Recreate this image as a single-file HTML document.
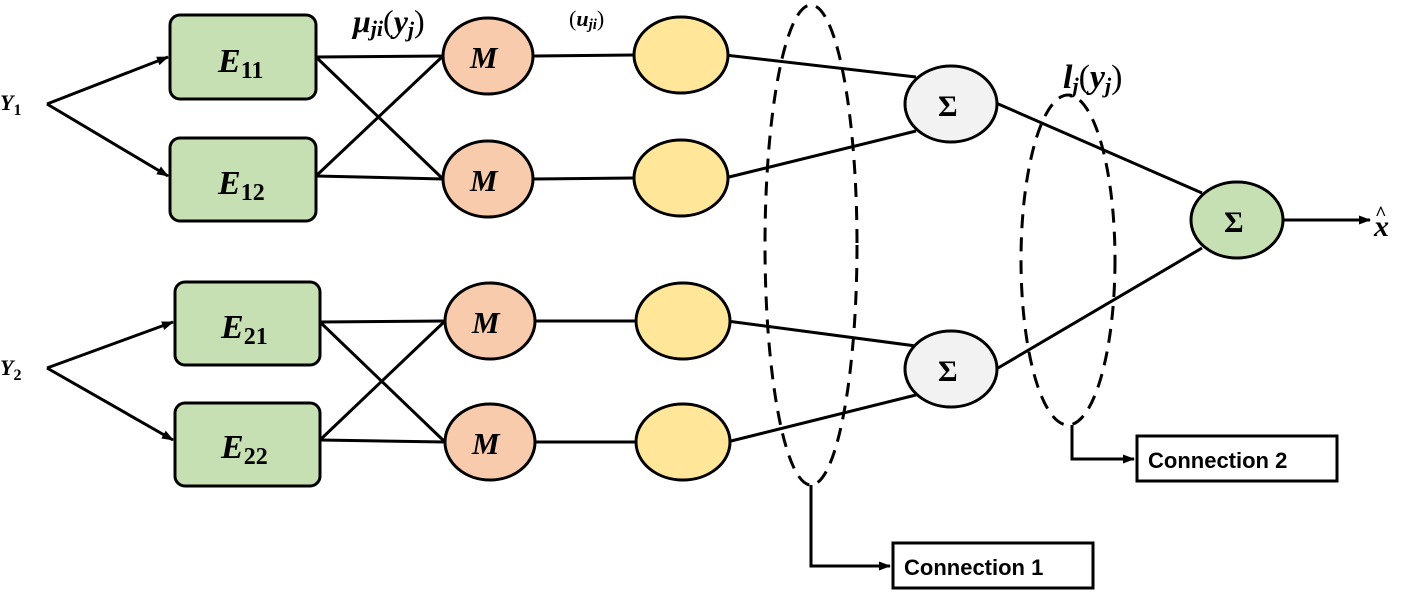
<!DOCTYPE html>
<html><head><meta charset="utf-8"><style>
html,body{margin:0;padding:0;background:#fff;}
svg{display:block;}
.m{font-family:"Liberation Serif",serif;font-weight:bold;font-style:italic;}
.s{font-family:"Liberation Sans",sans-serif;font-weight:bold;}
</style></head><body>
<svg width="1405" height="594" viewBox="0 0 1405 594" xmlns="http://www.w3.org/2000/svg">
<defs>
<marker id="a" markerWidth="12" markerHeight="9" refX="11" refY="4.5" orient="auto" markerUnits="userSpaceOnUse">
<path d="M0,0 L12,4.5 L0,9 Z" fill="#000"/></marker>
</defs>
<g stroke="#000" stroke-width="3" fill="none">
<line x1="47" y1="104" x2="168" y2="57" marker-end="url(#a)"/>
<line x1="47" y1="104" x2="168" y2="176" marker-end="url(#a)"/>
<line x1="47" y1="368" x2="173" y2="322" marker-end="url(#a)"/>
<line x1="47" y1="368" x2="173" y2="440" marker-end="url(#a)"/>
<line x1="316" y1="57" x2="443" y2="56"/>
<line x1="316" y1="57" x2="443" y2="179"/>
<line x1="316" y1="176" x2="443" y2="56"/>
<line x1="316" y1="176" x2="443" y2="179"/>
<line x1="320" y1="322" x2="445" y2="321"/>
<line x1="320" y1="322" x2="445" y2="442"/>
<line x1="320" y1="440" x2="445" y2="321"/>
<line x1="320" y1="440" x2="445" y2="442"/>
<line x1="534" y1="56" x2="634" y2="55"/>
<line x1="534" y1="179" x2="634" y2="178"/>
<line x1="536" y1="321" x2="636" y2="321"/>
<line x1="536" y1="442" x2="636" y2="442"/>
<line x1="725" y1="55" x2="916" y2="77"/>
<line x1="725" y1="178" x2="916" y2="131"/>
<line x1="727" y1="321" x2="916" y2="346"/>
<line x1="727" y1="442" x2="916" y2="395"/>
<line x1="996" y1="103" x2="1202" y2="193"/>
<line x1="998" y1="368" x2="1202" y2="248"/>
<line x1="1284" y1="220" x2="1370" y2="220" marker-end="url(#a)"/>
<polyline points="811,485 811,566 890,566" marker-end="url(#a)"/>
<polyline points="1072,425 1072,459 1134,459" marker-end="url(#a)"/>
</g>
<g stroke="#000" stroke-width="3" fill="none" stroke-dasharray="14,9">
<ellipse cx="811" cy="245" rx="46" ry="240"/>
<ellipse cx="1068" cy="260" rx="47" ry="165"/>
</g>
<g stroke="#000" stroke-width="3" fill="#c6e0b4">
<rect x="170" y="15" width="146" height="84" rx="10"/>
<rect x="170" y="138" width="146" height="83" rx="10"/>
<rect x="175" y="282" width="145" height="83" rx="10"/>
<rect x="175" y="403" width="145" height="83" rx="10"/>
</g>
<g stroke="#000" stroke-width="3">
<ellipse cx="488" cy="56" rx="45" ry="38" fill="#f8cbad"/>
<ellipse cx="488" cy="179" rx="45" ry="38" fill="#f8cbad"/>
<ellipse cx="490" cy="321" rx="45" ry="38" fill="#f8cbad"/>
<ellipse cx="490" cy="442" rx="45" ry="38" fill="#f8cbad"/>
<ellipse cx="681" cy="55" rx="47" ry="38" fill="#ffe699"/>
<ellipse cx="681" cy="178" rx="47" ry="38" fill="#ffe699"/>
<ellipse cx="683" cy="321" rx="47" ry="38" fill="#ffe699"/>
<ellipse cx="683" cy="442" rx="47" ry="38" fill="#ffe699"/>
<ellipse cx="951" cy="104" rx="46" ry="38" fill="#f2f2f2"/>
<ellipse cx="951" cy="369" rx="46" ry="38" fill="#f2f2f2"/>
<ellipse cx="1237" cy="220" rx="46" ry="38" fill="#c6e0b4"/>
</g>
<rect x="893" y="543" width="200" height="45" fill="#fff" stroke="#000" stroke-width="3"/>
<rect x="1137" y="436" width="200" height="45" fill="#fff" stroke="#000" stroke-width="3"/>
<g class="m" fill="#000">
<text x="218" y="72" font-size="34">E<tspan font-size="24" font-style="normal" dy="6">11</tspan></text>
<text x="218" y="194" font-size="34">E<tspan font-size="24" font-style="normal" dy="6">12</tspan></text>
<text x="221" y="338" font-size="34">E<tspan font-size="24" font-style="normal" dy="6">21</tspan></text>
<text x="221" y="458" font-size="34">E<tspan font-size="24" font-style="normal" dy="6">22</tspan></text>
<text x="470" y="68" font-size="31">M</text>
<text x="470" y="191" font-size="31">M</text>
<text x="472" y="333" font-size="31">M</text>
<text x="472" y="454" font-size="31">M</text>
<text x="938" y="116" font-size="30" font-style="normal">Σ</text>
<text x="938" y="381" font-size="30" font-style="normal">Σ</text>
<text x="1224" y="232" font-size="30" font-style="normal">Σ</text>
<text x="0" y="110" font-size="22">Y<tspan font-size="16" font-style="normal" dy="5">1</tspan></text>
<text x="0" y="375" font-size="22">Y<tspan font-size="16" font-style="normal" dy="5">2</tspan></text>
<text x="353" y="32" font-size="32">μ<tspan font-size="22" dy="4">ji</tspan><tspan font-weight="normal" font-style="normal" dy="-4">(</tspan>y<tspan font-size="22" dy="5">j</tspan><tspan font-weight="normal" font-style="normal" dy="-5">)</tspan></text>
<text x="569" y="26" font-size="22"><tspan font-weight="normal" font-style="normal">(</tspan>u<tspan font-size="15" dy="3">ji</tspan><tspan font-weight="normal" font-style="normal" dy="-3">)</tspan></text>
<text x="1063" y="88" font-size="34">l<tspan font-size="22" dy="5">j</tspan><tspan font-weight="normal" font-style="normal" dy="-5">(</tspan>y<tspan font-size="22" dy="5">j</tspan><tspan font-weight="normal" font-style="normal" dy="-5">)</tspan></text>
<text x="1374" y="236" font-size="30">x</text>
<text x="1375" y="220" font-size="20" font-style="normal">^</text>
</g>
<g class="s" fill="#000" font-size="22">
<text x="904" y="575">Connection 1</text>
<text x="1148" y="468">Connection 2</text>
</g>
</svg>
</body></html>
